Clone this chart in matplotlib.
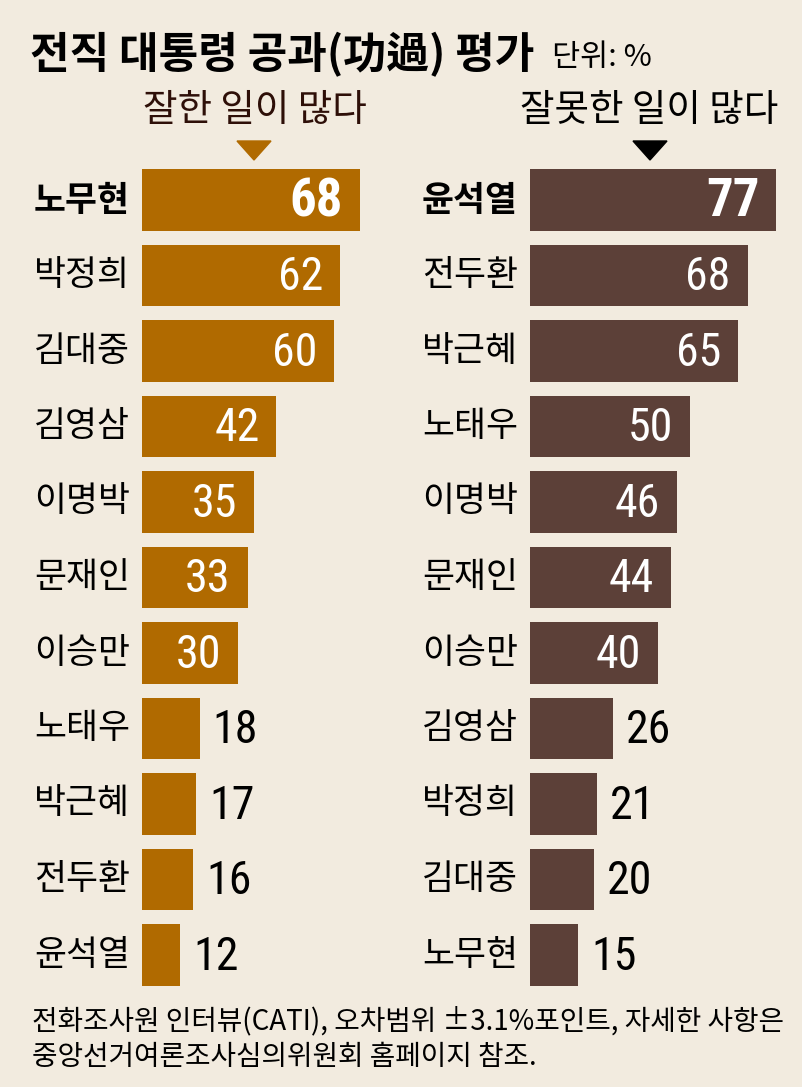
import os
import matplotlib
matplotlib.use("Agg")
import matplotlib.pyplot as plt
from matplotlib import font_manager as fm
from matplotlib.patches import Polygon

# 데이터
good_names = ['노무현', '박정희', '김대중', '김영삼', '이명박', '문재인', '이승만', '노태우', '박근혜', '전두환', '윤석열']
good_values = [68, 62, 60, 42, 35, 33, 30, 18, 17, 16, 12]
bad_names = ['윤석열', '전두환', '박근혜', '노태우', '이명박', '문재인', '이승만', '김영삼', '박정희', '김대중', '노무현']
bad_values = [77, 68, 65, 50, 46, 44, 40, 26, 21, 20, 15]

title = '전직 대통령 공과(功過) 평가'
unit = '단위: %'
left_head = '잘한 일이 많다'
right_head = '잘못한 일이 많다'
note1 = '전화조사원 인터뷰(CATI), 오차범위 ±3.1%포인트, 자세한 사항은'
note2 = '중앙선거여론조사심의위원회 홈페이지 참조.'

bg = '#F2EBDF'
c_good = '#B06A00'
c_bad = '#5C4038'
KR = 'Noto Sans CJK KR'


# 숫자용 좁은 글꼴 찾기 (없으면 Noto)
def find_narrow(bold):
    keys = ['liberationsansnarrow', 'robotocondensed', 'notosans-extracondensed',
            'notosans-condensed', 'opensans-condensed', 'opensans_condensed', 'dejavusanscondensed']
    files = [f.fname for f in fm.fontManager.ttflist]
    for k in keys:
        for p in files:
            b = os.path.basename(p).lower().replace(' ', '')
            if not b.startswith(k):
                continue
            rest = b[len(k):].rsplit('.', 1)[0].strip('-_')
            if bold and rest == 'bold':
                return p
            if not bold and rest in ('', 'regular'):
                return p
    return None


narrow_reg = find_narrow(False)
narrow_bold = find_narrow(True)
plt.rcParams['font.family'] = [KR, 'DejaVu Sans']


def num_font(size, bold):
    p = narrow_bold if bold else narrow_reg
    if p:
        return fm.FontProperties(fname=p, size=size)
    return fm.FontProperties(family=[KR], size=size, weight='bold' if bold else 'normal')


W, H = 803, 1087
PX = 3.2  # 1% 당 픽셀


def fx(px):
    return px / W


def fy(py):
    return 1 - py / H


fig = plt.figure(figsize=(W / 100, H / 100), dpi=100, facecolor=bg)

# 제목
fig.text(fx(30), fy(55), title, fontsize=31, fontweight='bold', va='center', ha='left')
fig.text(fx(552), fy(57), unit, fontsize=22, va='center', ha='left')
fig.text(fx(255), fy(111), left_head, fontsize=27, color='#2E0F08', va='center', ha='center')
fig.text(fx(649), fy(111), right_head, fontsize=27, color='black', va='center', ha='center')

# 삼각형
for cx, col in [(254, c_good), (650, 'black')]:
    tri = Polygon([(fx(cx - 17), fy(141)), (fx(cx + 17), fy(141)), (fx(cx), fy(160))],
                  closed=True, transform=fig.transFigure, color=col)
    fig.add_artist(tri)

top_px, bot_px = 162.25, 992.75


def draw_side(left_px, xmax, names, values, color):
    ax = fig.add_axes([fx(left_px), fy(bot_px), xmax * PX / W, (bot_px - top_px) / H])
    ax.set_xlim(0, xmax)
    ax.set_ylim(len(values) - 0.5, -0.5)
    ax.axis('off')
    ys = list(range(len(values)))
    ax.barh(ys, values, height=0.81, color=color)
    for i, (n, v) in enumerate(zip(names, values)):
        bold = i == 0
        ax.text(-12 / PX, i, n, ha='right', va='center', fontsize=25,
                fontweight='bold' if bold else 'normal', clip_on=False)
        fp = num_font(38 if bold else 33, bold)
        if v >= 30:
            ax.text(v - 17 / PX, i + 0.02, str(v), ha='right', va='center', color='white',
                    fontproperties=fp)
        else:
            ax.text(v + 13 / PX, i + 0.02, str(v), ha='left', va='center', color='black',
                    fontproperties=fp, clip_on=False)
    return ax


draw_side(142, 80, good_names, good_values, c_good)
draw_side(530, 84, bad_names, bad_values, c_bad)

# 주석
fig.text(fx(32), fy(1021), note1, fontsize=20, va='center', ha='left')
fig.text(fx(32), fy(1057), note2, fontsize=20, va='center', ha='left')

fig.savefig('out.png', dpi=100, facecolor=bg)
